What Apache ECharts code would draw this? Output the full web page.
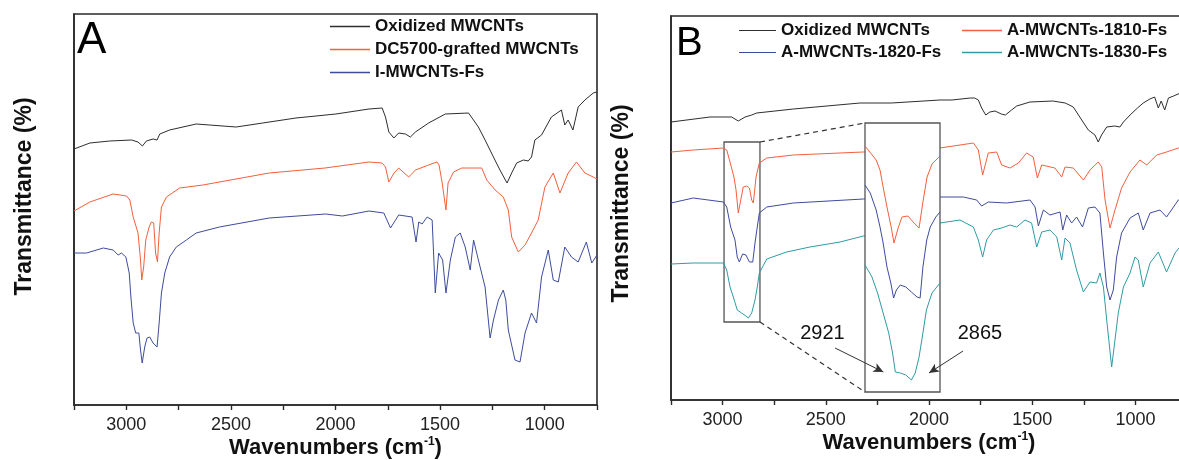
<!DOCTYPE html>
<html>
<head>
<meta charset="utf-8">
<script src="https://cdn.jsdelivr.net/npm/echarts@6/dist/echarts.min.js"></script>
<style>
  html, body { margin: 0; padding: 0; background: #fff; }
  #main { width: 1179px; height: 460px; }
</style>
</head>
<body>
<div id="main"></div>
<script>
// spectra: [wavenumber (cm-1), transmittance (a.u.)]
// panel A
var oxidizedA = [[3250,256],[3174,262],[3079,264],[2975,265],[2944,263],[2923,259],[2904,264],[2872,266],[2853,265],[2840,271],[2793,275],[2666,281],[2602,280],[2475,278],[2348,282],[2189,287],[1998,291],[1840,296],[1777,297],[1761,288],[1745,273],[1721,267],[1698,272],[1666,271],[1642,268],[1618,273],[1555,282],[1475,291],[1364,292],[1317,278],[1285,265],[1245,248],[1214,235],[1180,222],[1158,232],[1134,242],[1102,245],[1079,244],[1063,248],[1047,265],[1015,270],[968,288],[920,295],[904,280],[888,285],[865,275],[840,298],[808,305],[768,312],[750,313]];
var graftedA = [[3250,194],[3174,203],[3063,211],[2999,209],[2983,205],[2967,188],[2944,172],[2932,145],[2926,125],[2917,138],[2907,165],[2891,178],[2880,183],[2869,182],[2860,152],[2851,143],[2843,172],[2832,198],[2808,208],[2745,217],[2634,220],[2317,232],[2050,237],[1840,243],[1777,242],[1761,238],[1745,223],[1720,232],[1698,237],[1650,228],[1618,235],[1555,240],[1515,243],[1505,240],[1490,222],[1472,195],[1462,222],[1436,233],[1396,237],[1301,237],[1277,225],[1237,215],[1198,208],[1174,195],[1158,168],[1126,153],[1094,160],[1063,172],[1031,185],[999,218],[959,232],[927,212],[888,232],[848,243],[808,232],[768,228],[750,226]];
var iMwcntsA = [[3250,152],[3190,152],[3110,157],[3063,155],[3039,150],[3023,152],[3002,148],[2986,132],[2978,108],[2967,82],[2955,72],[2940,72],[2932,55],[2924,42],[2912,58],[2901,67],[2888,68],[2872,62],[2853,58],[2843,82],[2832,112],[2816,132],[2793,148],[2761,158],[2713,165],[2666,172],[2555,178],[2317,187],[2047,191],[1967,189],[1840,194],[1769,192],[1737,177],[1698,190],[1634,188],[1615,163],[1602,183],[1586,181],[1562,188],[1538,185],[1523,112],[1507,152],[1488,145],[1472,112],[1451,145],[1427,168],[1404,172],[1380,158],[1356,135],[1340,165],[1317,145],[1285,118],[1261,67],[1245,85],[1221,105],[1198,115],[1186,105],[1174,75],[1142,45],[1118,43],[1094,72],[1063,92],[1039,82],[1015,128],[983,155],[959,125],[935,123],[904,158],[872,148],[840,143],[801,163],[775,142],[750,150]];

// panel B
var oxidizedB = [[3250,278],[3061,283],[2956,283],[2924,279],[2891,283],[2859,285],[2835,287],[2657,291],[2334,297],[2182,297],[1947,300],[1889,300],[1800,302],[1779,302],[1761,300],[1745,292],[1725,285],[1705,288],[1680,289],[1650,286],[1630,285],[1600,290],[1575,294],[1511,298],[1400,299],[1340,297],[1301,293],[1260,280],[1228,270],[1196,265],[1180,258],[1164,265],[1139,273],[1100,274],[1075,273],[1058,278],[1026,285],[990,292],[962,297],[930,301],[907,303],[889,292],[875,299],[858,290],[840,302],[815,304],[782,307],[750,309]];
var fs1810B = [[3250,248],[3142,250],[2996,252],[2980,250],[2964,238],[2945,223],[2935,210],[2924,187],[2912,200],[2900,213],[2883,214],[2870,212],[2859,200],[2851,197],[2838,223],[2822,237],[2786,242],[2657,245],[2318,248],[1999,251],[1947,252],[1785,257],[1761,250],[1740,225],[1713,247],[1672,248],[1648,235],[1608,232],[1567,237],[1527,247],[1495,243],[1475,222],[1454,235],[1390,232],[1357,223],[1341,233],[1301,232],[1252,220],[1220,230],[1180,238],[1163,233],[1147,200],[1123,172],[1099,190],[1067,212],[1026,228],[978,240],[945,235],[897,245],[849,248],[792,252],[750,254]];
var fs1820B = [[3250,197],[3142,202],[2996,198],[2980,193],[2961,173],[2940,160],[2929,143],[2919,138],[2903,146],[2887,145],[2870,138],[2854,138],[2843,157],[2832,173],[2822,187],[2786,193],[2657,197],[2318,201],[1999,203],[1834,203],[1769,200],[1745,194],[1713,198],[1624,197],[1511,200],[1486,193],[1470,174],[1446,190],[1414,185],[1365,188],[1352,170],[1333,185],[1309,177],[1285,183],[1256,173],[1228,192],[1196,193],[1172,187],[1155,147],[1139,113],[1123,100],[1107,110],[1091,143],[1067,167],[1026,182],[986,187],[962,170],[929,187],[881,190],[849,183],[792,200],[750,205]];
var fs1830B = [[3250,136],[3142,137],[2996,137],[2980,130],[2964,113],[2948,103],[2929,90],[2908,87],[2887,84],[2875,82],[2859,87],[2843,100],[2832,113],[2822,127],[2786,141],[2690,148],[2577,153],[2431,158],[2318,164],[2109,173],[1999,177],[1947,177],[1850,180],[1785,173],[1761,160],[1740,143],[1721,160],[1688,170],[1648,172],[1608,175],[1575,173],[1535,180],[1503,177],[1478,153],[1454,168],[1414,170],[1381,163],[1357,140],[1341,162],[1317,157],[1285,130],[1252,108],[1220,118],[1188,117],[1172,127],[1155,113],[1139,80],[1115,33],[1099,60],[1083,87],[1058,113],[1026,127],[1002,143],[986,140],[962,113],[929,137],[889,148],[849,128],[808,147],[789,152],[750,154]];

// enlarged C-H stretching region (inset of panel B)
var insetRed = [[3010,246],[3006,246],[2978,232],[2967,222],[2958,205],[2947,185],[2935,165],[2927,149],[2915,164],[2904,175],[2887,176],[2872,170],[2855,164],[2844,190],[2832,215],[2818,228],[2798,235],[2795,236]];
var insetBlue = [[3010,207],[2995,199],[2978,182],[2967,165],[2958,149],[2947,125],[2936,109],[2928,94],[2920,102],[2909,107],[2893,105],[2877,100],[2861,95],[2852,94],[2844,125],[2833,152],[2823,165],[2807,175],[2795,180]];
var insetTeal = [[3010,127],[2990,115],[2974,99],[2958,79],[2942,59],[2931,39],[2923,20],[2909,19],[2893,17],[2877,12],[2866,19],[2855,35],[2844,59],[2834,82],[2818,99],[2795,109]];

// annotations
var peakLabels = ['2921', '2865'];
var zoomBox = [[2993, 258], [2819, 78]];

var chart = echarts.init(document.getElementById('main'));
var font = 'Liberation Sans, Arial, sans-serif';
var dark = '#2a2a2a';
var cBlack = '#2e2e2e', cRed = '#f2603e', cBlue = '#3e4c9c', cTeal = '#2e9ca4';
var lineIcon = 'path://M0,0H40V1.3H0Z';

function xAxisFor(g) {
  return {
    gridIndex: g, type: 'value', min: 750, max: 3250, interval: 250, inverse: true,
    axisLine: { show: true, onZero: false, lineStyle: { color: dark, width: 1.6 } },
    axisTick: { show: true, length: 5, lineStyle: { color: dark, width: 1.4 } },
    axisLabel: {
      fontFamily: font, fontSize: 18, color: '#222', margin: 11,
      formatter: function (v) { return v % 500 === 0 ? String(v) : ''; }
    },
    splitLine: { show: false },
    name: 'Wavenumbers (cm{sup|-1})', nameLocation: 'middle', nameGap: 31, nameMoveOverlap: false,
    nameTextStyle: {
      fontFamily: font, fontSize: 22, fontWeight: 'bold', color: '#111',
      rich: { sup: { fontFamily: font, fontSize: 12, fontWeight: 'bold', color: '#111', padding: [0, 0, 11, 0] } }
    }
  };
}
function yAxisFor(g, max, shift) {
  return {
    gridIndex: g, type: 'value', min: 0, max: max,
    axisLine: { show: true, onZero: false, lineStyle: { color: dark, width: 1.6 } },
    axisTick: { show: false }, axisLabel: { show: false }, splitLine: { show: false },
    name: 'Transmittance (%)', nameLocation: 'middle', nameGap: 38, nameMoveOverlap: false,
    nameTextStyle: { fontFamily: font, fontSize: 23, fontWeight: 'bold', color: '#111', padding: [0, 0, 0, shift] }
  };
}
function spectrum(name, data, color, axis, z) {
  return {
    name: name, type: 'line', data: data, xAxisIndex: axis, yAxisIndex: axis,
    symbol: 'none', z: z || 2, lineStyle: { color: color, width: 1 }, itemStyle: { color: color },
    animation: false
  };
}
var legendText = { fontFamily: font, fontSize: 17, fontWeight: 'bold', color: '#111' };

var option = {
  backgroundColor: '#fff',
  animation: false,
  title: [
    { text: 'A', left: 77, top: 19, padding: 0, textStyle: { fontFamily: font, fontSize: 44, fontWeight: 'normal', color: '#000' } },
    { text: 'B', left: 676, top: 24, padding: 0, textStyle: { fontFamily: font, fontSize: 40, fontWeight: 'normal', color: '#000' } }
  ],
  legend: [
    { left: 330, top: 18, padding: 0, orient: 'vertical', icon: lineIcon, itemWidth: 40, itemHeight: 14, itemGap: 6, selectedMode: false,
      data: ['Oxidized MWCNTs', 'DC5700-grafted MWCNTs', 'I-MWCNTs-Fs'], textStyle: legendText },
    { left: 739, top: 22, padding: 0, orient: 'vertical', icon: lineIcon, itemWidth: 37, itemHeight: 14, itemGap: 5, selectedMode: false,
      data: ['Oxidized MWCNTs', 'A-MWCNTs-1820-Fs'], textStyle: legendText },
    { left: 962, top: 22, padding: 0, orient: 'vertical', icon: lineIcon, itemWidth: 40, itemHeight: 14, itemGap: 5, selectedMode: false,
      data: ['A-MWCNTs-1810-Fs', 'A-MWCNTs-1830-Fs'], textStyle: legendText }
  ],
  grid: [
    { left: 74, top: 14, width: 523, height: 391, show: true, borderColor: dark, borderWidth: 1.6, outerBoundsMode: 'none' },
    { left: 671, top: 16, width: 516, height: 384, show: true, borderColor: dark, borderWidth: 1.6, outerBoundsMode: 'none' },
    { left: 865, top: 123, width: 75, height: 269, show: true, z: 5, backgroundColor: '#fff',
      borderColor: '#555', borderWidth: 1.3, outerBoundsMode: 'none' }
  ],
  xAxis: [
    xAxisFor(0), xAxisFor(1),
    { gridIndex: 2, type: 'value', min: 2795, max: 3010, inverse: true, show: false }
  ],
  yAxis: [
    yAxisFor(0, 391, 26), yAxisFor(1, 384, 9),
    { gridIndex: 2, type: 'value', min: 0, max: 269, show: false }
  ],
  series: [
    spectrum('Oxidized MWCNTs', oxidizedA, cBlack, 0),
    spectrum('DC5700-grafted MWCNTs', graftedA, cRed, 0),
    spectrum('I-MWCNTs-Fs', iMwcntsA, cBlue, 0),
    spectrum('Oxidized MWCNTs', oxidizedB, cBlack, 1),
    spectrum('A-MWCNTs-1810-Fs', fs1810B, cRed, 1),
    spectrum('A-MWCNTs-1820-Fs', fs1820B, cBlue, 1),
    spectrum('A-MWCNTs-1830-Fs', fs1830B, cTeal, 1),
    spectrum('A-MWCNTs-1810-Fs', insetRed, cRed, 2, 6),
    spectrum('A-MWCNTs-1820-Fs', insetBlue, cBlue, 2, 6),
    spectrum('A-MWCNTs-1830-Fs', insetTeal, cTeal, 2, 6),
    {
      name: 'zoom', type: 'line', data: [], xAxisIndex: 1, yAxisIndex: 1, z: 10, silent: true,
      markArea: {
        silent: true,
        itemStyle: { color: 'rgba(0,0,0,0)', borderColor: '#555', borderWidth: 1.3 },
        data: [[{ coord: zoomBox[0] }, { coord: zoomBox[1] }]]
      },
      markLine: {
        silent: true, symbol: ['none', 'none'], label: { show: false },
        lineStyle: { color: '#333', width: 1.2, type: [5, 4] },
        data: [
          [{ coord: [zoomBox[1][0], zoomBox[0][1]] }, { coord: [2310, 277] }],
          [{ coord: [zoomBox[1][0], zoomBox[1][1]] }, { coord: [2310, 8] }]
        ]
      }
    },
    {
      name: 'peaks', type: 'line', data: [], xAxisIndex: 1, yAxisIndex: 1, z: 10, silent: true,
      markLine: {
        silent: true, symbol: ['none', 'arrow'], symbolSize: [7, 10], label: { show: false },
        lineStyle: { color: '#333', width: 1, type: 'solid' },
        data: [
          [{ coord: [2455, 52] }, { coord: [2221, 28] }],
          [{ coord: [1835, 49] }, { coord: [2000, 27] }]
        ]
      },
      markPoint: {
        silent: true, symbol: 'rect', symbolSize: 1, itemStyle: { color: 'rgba(0,0,0,0)' },
        label: { show: true, position: 'inside', fontFamily: font, fontSize: 20, color: '#111',
          formatter: function (p) { return p.name; } },
        data: [
          { name: peakLabels[0], coord: [2516, 67] },
          { name: peakLabels[1], coord: [1753, 67] }
        ]
      }
    }
  ]
};
chart.setOption(option);
</script>
</body>
</html>
